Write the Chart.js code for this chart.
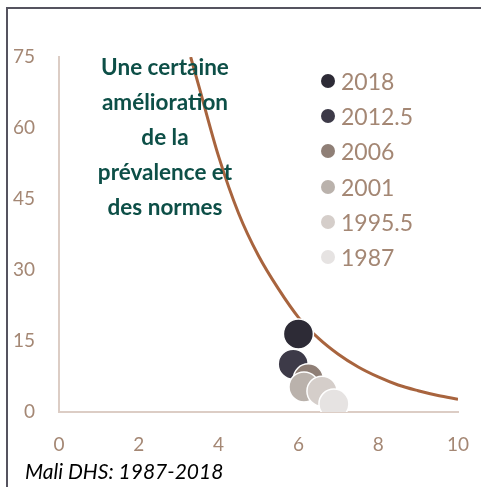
<!DOCTYPE html>
<html>
<head>
<meta charset="utf-8">
<script src="https://cdn.jsdelivr.net/npm/chart.js@4/dist/chart.umd.min.js"></script>
<style>
  html, body { margin:0; padding:0; background:#fff; }
  #wrap { position:relative; width:481px; height:487px; overflow:hidden; }
  #frame { position:absolute; left:6px; top:7px; width:480px; height:490px; border-left:2px solid #55535f; border-top:2px solid #55535f; box-sizing:border-box; pointer-events:none; }
  canvas { position:absolute; left:0; top:0; }
  #title { position:absolute; left:55px; width:220px; top:49px; text-align:center; font-family:Lato, "Open Sans", sans-serif; font-weight:bold; font-size:22.5px; line-height:35px; color:#0d4f47; }
  #legend { position:absolute; left:320px; top:63px; font-family:Lato, "Open Sans", sans-serif; font-size:23px; color:#a48774; }
  .li { height:35.3px; display:flex; align-items:center; }
  .dot { width:14px; height:14px; border-radius:50%; margin-right:6px; margin-left:1px; }
  #foot { position:absolute; left:25px; top:458px; font-family:Lato, "Open Sans", sans-serif; font-style:italic; font-size:21px; color:#000; }
</style>
</head>
<body>
<div id="wrap">
  <canvas id="c" width="481" height="487"></canvas>
  <div id="title">Une certaine<br>amélioration<br>de la<br>prévalence et<br>des normes</div>
  <div id="legend"></div>
  <div id="foot">Mali DHS: 1987-2018</div>
  <div id="frame"></div>
</div>
<script>
const years = ['2018', '2012.5', '2006', '2001', '1995.5', '1987'];
const xValues = [6.0, 5.87, 6.25, 6.14, 6.59, 6.89];
const yValues = [16.5, 10.1, 7.0, 5.3, 4.4, 1.7];
const pointColors = ['#2d2b36', '#3d3a48', '#8f7f76', '#bab2ac', '#d5ceca', '#e6e3e2'];
const curveX = [3.3, 3.5, 4, 4.5, 5, 5.5, 6, 6.5, 7, 7.5, 8, 8.5, 9, 9.5, 10];
const curveY = [75, 69, 54, 42, 33, 26, 20, 15.6, 12.2, 9.5, 7.4, 5.7, 4.5, 3.5, 2.7];
const xTicks = [0, 2, 4, 6, 8, 10];
const yTicks = [0, 15, 30, 45, 60, 75];

const tickColor = '#a48774';
const axisColor = '#dccdc5';

const datasets = years.map((y, i) => ({
  label: y,
  data: [{x: xValues[i], y: yValues[i]}],
  backgroundColor: pointColors[i],
  borderColor: '#ffffff',
  borderWidth: 1.5,
  pointRadius: 15,
  pointHoverRadius: 15,
  order: years.length - i
}));
datasets.push({
  type: 'line',
  label: 'trend',
  data: curveX.map((x, i) => ({x, y: curveY[i]})),
  borderColor: '#a8643e',
  borderWidth: 3,
  pointRadius: 0,
  fill: false,
  cubicInterpolationMode: 'monotone',
  order: 20
});

// HTML legend
const leg = document.getElementById('legend');
years.forEach((y, i) => {
  const d = document.createElement('div'); d.className = 'li';
  const dot = document.createElement('span'); dot.className = 'dot'; dot.style.background = pointColors[i];
  const t = document.createElement('span'); t.textContent = y;
  d.appendChild(dot); d.appendChild(t); leg.appendChild(d);
});

new Chart(document.getElementById('c'), {
  type: 'scatter',
  data: { datasets },
  options: {
    responsive: false,
    animation: false,
    layout: { padding: { left: 0, right: 23, top: 57, bottom: 0 } },
    plugins: { legend: { display: false }, tooltip: { enabled: false } },
    scales: {
      x: {
        type: 'linear', min: 0, max: 10,
        afterBuildTicks: s => { s.ticks = xTicks.map(v => ({value: v})); },
        afterFit: s => { s.height = 75; s.paddingLeft = 0; s.paddingRight = 0; },
        grid: { display: false, drawTicks: false },
        border: { display: true, color: axisColor, width: 2 },
        ticks: { color: tickColor, padding: 21, font: { family: 'Lato', size: 19 } }
      },
      y: {
        type: 'linear', min: 0, max: 75,
        afterBuildTicks: s => { s.ticks = yTicks.map(v => ({value: v})); },
        afterFit: s => { s.width = 59; s.paddingTop = 0; s.paddingBottom = 0; },
        grid: { display: false, drawTicks: false },
        border: { display: true, color: axisColor, width: 2 },
        ticks: { color: tickColor, padding: 24, font: { family: 'Lato', size: 19 } }
      }
    }
  }
});
</script>
</body>
</html>
